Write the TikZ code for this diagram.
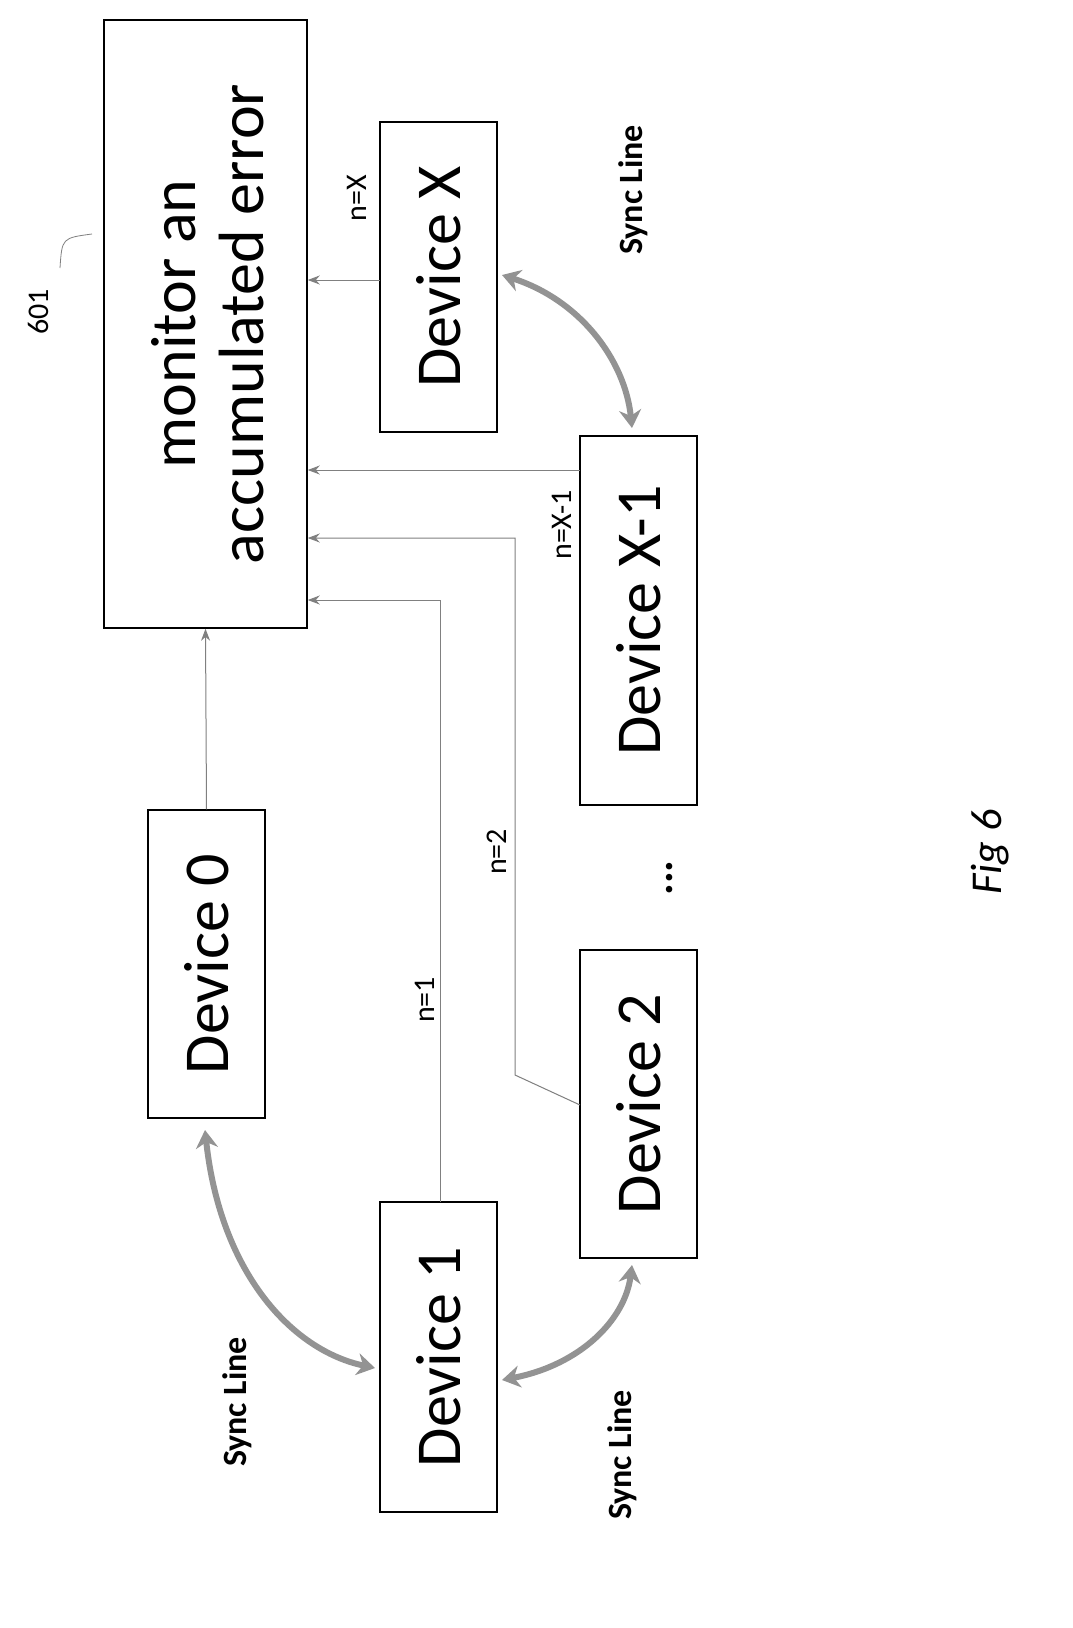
\documentclass[tikz,border=0pt]{standalone}
\usepackage{fontspec}
\setmainfont{Carlito}
\usetikzlibrary{arrows.meta}
\begin{document}
\begin{tikzpicture}[x=1pt,y=-1pt,
  box/.style={draw,line width=1.5pt,inner sep=0pt},
  lbl/.style={rotate=90,font=\fontsize{64}{68}\selectfont},
  small/.style={rotate=90,font=\fontsize{30}{32}\selectfont},
  sync/.style={rotate=90,font=\bfseries\fontsize{34}{36}\selectfont},
  conn/.style={draw=gray,line width=1pt,-{Stealth[length=12pt,width=9pt]}},
  thick sync/.style={draw=gray!85,line width=6pt,{Stealth[length=18pt,width=22pt]}-{Stealth[length=18pt,width=22pt]}}]
\useasboundingbox (0,0) rectangle (1072,1628);
\fill[white] (0,0) rectangle (1072,1628);
\node[box,minimum width=203pt,minimum height=608pt] (mon) at (205.5,324) {};
\node[lbl,align=center] (mt) at (208,324) {monitor an\\accumulated error};
\node[box,minimum width=117pt,minimum height=308pt] (d0) at (206.5,964) {};
\node[lbl] (d0t) at (206.5,964) {Device 0};
\node[box,minimum width=117pt,minimum height=310pt] (d1) at (438.5,1357) {};
\node[lbl] (d1t) at (438.5,1357) {Device 1};
\node[box,minimum width=117pt,minimum height=308pt] (d2) at (638.5,1104) {};
\node[lbl] (d2t) at (638.5,1104) {Device 2};
\node[box,minimum width=117pt,minimum height=369pt] (dx1) at (638.5,620.5) {};
\node[lbl] (dx1t) at (638.5,620.5) {Device X-1};
\node[box,minimum width=117pt,minimum height=310pt] (dx) at (438.5,277) {};
\node[lbl] (dxt) at (438.5,277) {Device X};
\node[rotate=90,font=\bfseries\fontsize{44}{44}\selectfont] (dots) at (670,878) {...};
\node[rotate=90,font=\itshape\fontsize{44}{46}\selectfont] (fig) at (990,852) {Fig 6};
\node[small] (n601) at (38,312) {601};
\coordinate (l601a) at (60,268);
\coordinate (l601b) at (92,234);
\draw[gray,line width=0.8pt] (l601a) .. controls (62,238) .. (l601b);
% connectors
\draw[conn] (d0.north) -- (mon.south);
\coordinate (c1) at (440,600);
\draw[conn] (440,1202) -- (c1) -- (mon.east|-c1);
\node[small] (n1) at (425,1000) {n=1};
\coordinate (c2a) at (515,1075);
\coordinate (c2b) at (515,538);
\draw[conn] (580,1105) -- (c2a) -- (c2b) -- (mon.east|-c2b);
\node[small] (n2) at (497,852) {n=2};
\coordinate (c3) at (580,470);
\draw[conn] (c3) -- (mon.east|-c3);
\node[small] (n3) at (562,525) {n=X-1};
\coordinate (c4) at (380,280);
\draw[conn] (c4) -- (mon.east|-c4);
\node[small] (n4) at (357,198) {n=X};
% sync lines
\draw[thick sync] (205,1130) .. controls (220,1270) and (290,1350) .. (375,1368);
\node[sync] (s1) at (237,1402) {Sync Line};
\draw[thick sync] (502,1380) .. controls (580,1365) and (625,1320) .. (632,1265);
\node[sync] (s2) at (622,1455) {Sync Line};
\draw[thick sync] (502,275) .. controls (580,300) and (625,360) .. (632,428);
\node[sync] (s3) at (633,190) {Sync Line};
\end{tikzpicture}
\end{document}
